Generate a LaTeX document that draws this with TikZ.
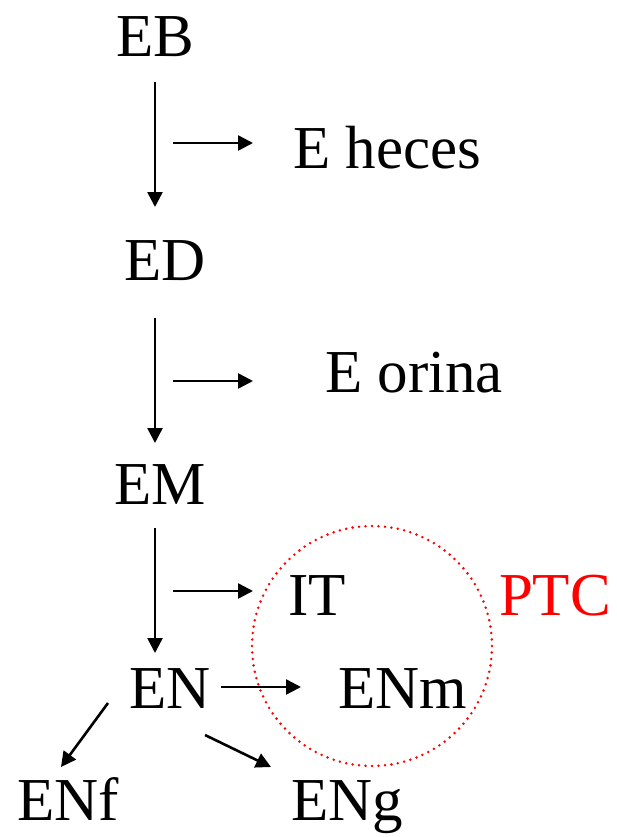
\documentclass[tikz,border=0pt]{standalone}
\usepackage{fontspec}
\setmainfont{Liberation Serif}
\usetikzlibrary{arrows.meta}
\begin{document}
\begin{tikzpicture}[x=1pt,y=-1pt,
  lbl/.style={font=\fontsize{61}{61}\selectfont, inner sep=0pt, anchor=base},
  arr/.style={line width=2.6pt, -{Triangle[length=15pt,width=15pt]}}]
\useasboundingbox (0,0) rectangle (617,837);
\node[lbl] (EB) at (155,57) {EB};
\node[lbl] (Eh) at (387,168) {E heces};
\node[lbl] (ED) at (165,280) {ED};
\node[lbl] (Eo) at (414,392) {E orina};
\node[lbl] (EM) at (160,504) {EM};
\node[lbl] (IT) at (317,615) {IT};
\node[lbl, text={rgb,255:red,255;green,0;blue,0}] (PTC) at (555,615) {PTC};
\node[lbl] (EN) at (170,708) {EN};
\node[lbl] (ENm) at (403,708) {ENm};
\node[lbl] (ENf) at (68,820) {ENf};
\node[lbl] (ENg) at (347,820) {ENg};
\coordinate (a1) at (155,82);  \coordinate (b1) at (155,207);
\coordinate (c1) at (173,143); \coordinate (d1) at (253,143);
\coordinate (a2) at (155,318); \coordinate (b2) at (155,443);
\coordinate (c2) at (173,381); \coordinate (d2) at (253,381);
\coordinate (a3) at (155,528); \coordinate (b3) at (155,653);
\coordinate (c3) at (173,591); \coordinate (d3) at (253,591);
\coordinate (c4) at (221,687); \coordinate (d4) at (301,687);
\coordinate (e1) at (108,703); \coordinate (f1) at (61,767);
\coordinate (e2) at (205,735); \coordinate (f2) at (271,767);
\draw[arr] (a1) -- (b1);
\draw[arr] (c1) -- (d1);
\draw[arr] (a2) -- (b2);
\draw[arr] (c2) -- (d2);
\draw[arr] (a3) -- (b3);
\draw[arr] (c3) -- (d3);
\draw[arr] (c4) -- (d4);
\draw[arr] (e1) -- (f1);
\draw[arr] (e2) -- (f2);
\coordinate (cc) at (372,646);
\draw[red, line width=2.8pt, dash pattern=on 0pt off 6.5pt, line cap=round] (cc) circle[radius=120];
\end{tikzpicture}
\end{document}
